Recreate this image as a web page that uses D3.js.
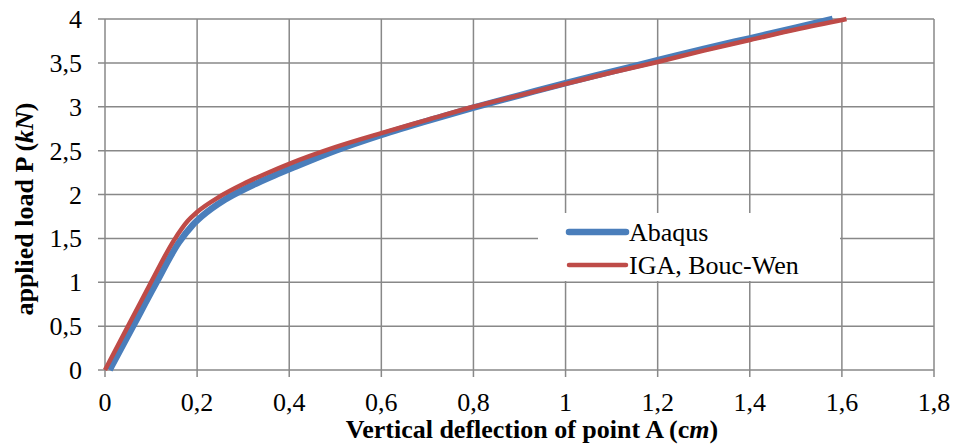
<!DOCTYPE html>
<html>
<head>
<meta charset="utf-8">
<script src="https://cdn.jsdelivr.net/npm/d3@7"></script>
</head>
<body style="margin:0">
<script>
// data: deflection (cm) vs load (kN)
var abaqusX = [0.01, 0.06, 0.11, 0.16, 0.19, 0.21, 0.26, 0.31, 0.36, 0.41, 0.50, 0.60, 0.70, 0.80, 0.90, 1.00, 1.10, 1.20, 1.30, 1.40, 1.50, 1.58];
var abaqusY = [0, 0.49, 0.98, 1.45, 1.65, 1.75, 1.94, 2.08, 2.20, 2.31, 2.50, 2.68, 2.84, 2.99, 3.13, 3.27, 3.40, 3.53, 3.66, 3.78, 3.90, 4.0];
var igaX = [0, 0.05, 0.10, 0.15, 0.18, 0.20, 0.25, 0.30, 0.35, 0.40, 0.50, 0.60, 0.70, 0.80, 0.90, 1.00, 1.10, 1.20, 1.30, 1.40, 1.50, 1.61];
var igaY = [0, 0.50, 1.00, 1.48, 1.70, 1.80, 1.98, 2.12, 2.24, 2.35, 2.54, 2.70, 2.85, 3.00, 3.13, 3.26, 3.39, 3.51, 3.64, 3.76, 3.88, 4.0];
var xTicks = [0, 0.2, 0.4, 0.6, 0.8, 1, 1.2, 1.4, 1.6, 1.8];
var yTicks = [0, 0.5, 1, 1.5, 2, 2.5, 3, 3.5, 4];

// set the dimensions and margins of the graph
var margin = {top: 19, right: 21, bottom: 76, left: 105},
  width = 955 - margin.left - margin.right,
  height = 446 - margin.top - margin.bottom;

var font = "Liberation Serif";

var root = d3.select("body")
  .append("svg")
    .attr("width", 955)
    .attr("height", 446);
root.append("rect").attr("width", 955).attr("height", 446).attr("fill", "#fff");
var svg = root.append("g")
    .attr("transform", "translate(" + margin.left + "," + margin.top + ")");

var x = d3.scaleLinear().domain([0, 1.8]).range([0, width]);
var y = d3.scaleLinear().domain([0, 4]).range([height, 0]);

var fmt = function(d) { return String(d).replace(".", ","); };
var gridColor = "#888";

// grid lines (with the small outside ticks)
svg.append("g")
  .selectAll("line").data(xTicks).join("line")
    .attr("x1", d => x(d)).attr("x2", d => x(d))
    .attr("y1", 0).attr("y2", height + 7)
    .attr("stroke", gridColor).attr("stroke-width", 1.5);
svg.append("g")
  .selectAll("line").data(yTicks).join("line")
    .attr("x1", -7).attr("x2", width)
    .attr("y1", d => y(d)).attr("y2", d => y(d))
    .attr("stroke", gridColor).attr("stroke-width", 1.5);

// tick labels
svg.append("g")
  .selectAll("text").data(xTicks).join("text")
    .attr("x", d => x(d))
    .attr("y", height + 41)
    .attr("text-anchor", "middle")
    .attr("font-family", font)
    .attr("font-size", 26)
    .text(fmt);
svg.append("g")
  .selectAll("text").data(yTicks).join("text")
    .attr("x", -23)
    .attr("y", d => y(d) + 9)
    .attr("text-anchor", "end")
    .attr("font-family", font)
    .attr("font-size", 26)
    .text(fmt);

// curves
var line = d3.line()
  .curve(d3.curveMonotoneX)
  .x(function(d) { return x(d[0]); })
  .y(function(d) { return y(d[1]); });

svg.append("path")
  .datum(d3.zip(abaqusX, abaqusY))
  .attr("fill", "none")
  .attr("stroke", "#4a7ebb")
  .attr("stroke-width", 6.5)
  .attr("stroke-linejoin", "round")
  .attr("d", line);

svg.append("path")
  .datum(d3.zip(igaX, igaY))
  .attr("fill", "none")
  .attr("stroke", "#be4b48")
  .attr("stroke-width", 4.5)
  .attr("stroke-linejoin", "round")
  .attr("d", line);

// legend
var leg = svg.append("g").attr("transform", "translate(433,194)");
leg.append("rect").attr("x", 0).attr("y", 0).attr("width", 302).attr("height", 68).attr("fill", "#fff");
leg.append("line").attr("x1", 31).attr("x2", 88).attr("y1", 19).attr("y2", 19)
  .attr("stroke", "#4a7ebb").attr("stroke-width", 6.5).attr("stroke-linecap", "round");
leg.append("line").attr("x1", 31).attr("x2", 88).attr("y1", 52).attr("y2", 52)
  .attr("stroke", "#be4b48").attr("stroke-width", 4.5).attr("stroke-linecap", "round");
leg.append("text").attr("x", 91).attr("y", 28).attr("font-family", font).attr("font-size", 26).text("Abaqus");
leg.append("text").attr("x", 91).attr("y", 61).attr("font-family", font).attr("font-size", 26).text("IGA, Bouc-Wen");

// axis titles
var xt = svg.append("text")
  .attr("x", 532 - margin.left)
  .attr("y", 438 - margin.top)
  .attr("text-anchor", "middle")
  .attr("font-family", font)
  .attr("font-size", 26)
  .attr("font-weight", "bold");
xt.append("tspan").text("Vertical deflection of point A (c");
xt.append("tspan").attr("font-style", "italic").text("m");
xt.append("tspan").text(")");

var yt = svg.append("text")
  .attr("transform", "translate(" + (33 - margin.left) + "," + (209 - margin.top) + ") rotate(-90)")
  .attr("text-anchor", "middle")
  .attr("font-family", font)
  .attr("font-size", 26)
  .attr("font-weight", "bold");
yt.append("tspan").text("applied load P (");
yt.append("tspan").attr("font-style", "italic").text("kN");
yt.append("tspan").text(")");
</script>
</body>
</html>
